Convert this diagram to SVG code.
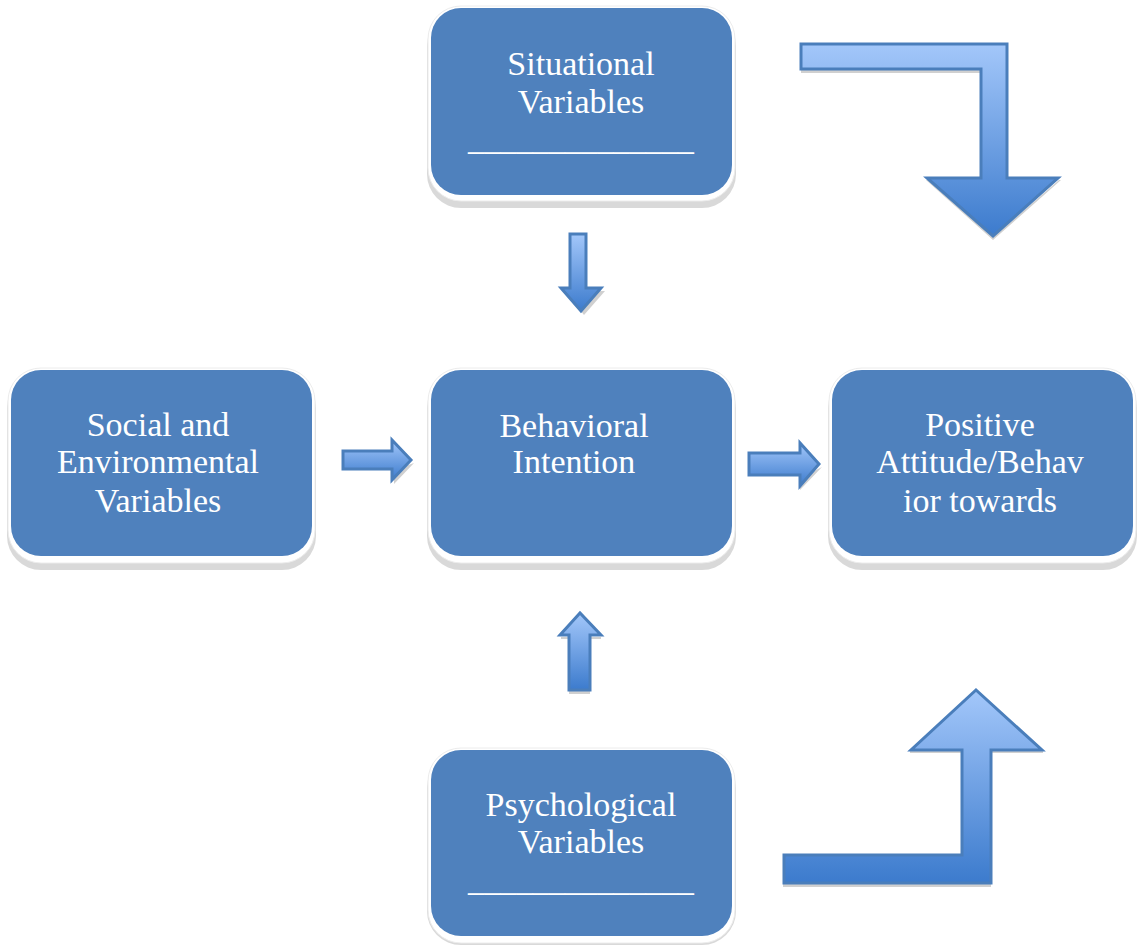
<svg xmlns="http://www.w3.org/2000/svg" width="1139" height="945" viewBox="0 0 1139 945">
<style>
.shadow{fill:#d9d9d9}
.halo{fill:#ffffff;stroke:#ececec;stroke-width:1}
.box{fill:#4f81bd}
.lbl{font-family:"Liberation Serif","Times New Roman",serif;font-size:34px;fill:#ffffff;text-anchor:middle}
.arr{fill:url(#g);stroke:#4a7ebb;stroke-width:3;stroke-linejoin:miter}
.ash{fill:#d0d0d0}
</style>
<defs>
<linearGradient id="g" x1="0" y1="0" x2="0" y2="1">
<stop offset="0" stop-color="#a3c7fa"/>
<stop offset="1" stop-color="#3c7bcd"/>
</linearGradient>
</defs>
<rect width="1139" height="945" fill="#ffffff"/>

<g id="situational">
<rect class="shadow" x="427" y="12" width="309" height="196" rx="34"/>
<rect class="halo" x="428" y="6" width="307" height="195" rx="33"/>
<rect class="box" x="431" y="8" width="301" height="187" rx="30"/>
<text class="lbl" x="581" y="75">Situational</text>
<text class="lbl" x="581" y="113">Variables</text>
<text class="lbl" x="581" y="150" textLength="226" lengthAdjust="spacingAndGlyphs">______________</text>
</g>

<g id="social">
<rect class="shadow" x="7" y="374" width="309" height="196" rx="34"/>
<rect class="halo" x="8" y="368" width="307" height="195" rx="33"/>
<rect class="box" x="11" y="370" width="301" height="186" rx="30"/>
<text class="lbl" x="158" y="436">Social and</text>
<text class="lbl" x="158" y="473">Environmental</text>
<text class="lbl" x="158" y="512">Variables</text>
</g>

<g id="behavioral">
<rect class="shadow" x="427" y="374" width="309" height="196" rx="34"/>
<rect class="halo" x="428" y="368" width="307" height="195" rx="33"/>
<rect class="box" x="431" y="370" width="301" height="186" rx="30"/>
<text class="lbl" x="574" y="437">Behavioral</text>
<text class="lbl" x="574" y="473">Intention</text>
</g>

<g id="positive">
<rect class="shadow" x="828" y="374" width="309" height="196" rx="34"/>
<rect class="halo" x="829" y="368" width="307" height="195" rx="33"/>
<rect class="box" x="832" y="370" width="301" height="186" rx="30"/>
<text class="lbl" x="980" y="436">Positive</text>
<text class="lbl" x="980" y="473">Attitude/Behav</text>
<text class="lbl" x="980" y="512">ior towards</text>
</g>

<g id="psychological">
<rect class="shadow" x="427" y="754" width="309" height="191" rx="34"/>
<rect class="halo" x="428" y="748" width="307" height="195" rx="33"/>
<rect class="box" x="431" y="750" width="301" height="186" rx="30"/>
<text class="lbl" x="581" y="816">Psychological</text>
<text class="lbl" x="581" y="853">Variables</text>
<text class="lbl" x="581" y="891" textLength="226" lengthAdjust="spacingAndGlyphs">______________</text>
</g>

<g id="connectors">
<path class="ash" d="M573 291 L565 291 L584 315 L605 291 L589 291 Z"/>
<path class="arr" d="M570 234 L586 234 L586 288 L601 288 L581 311 L561 288 L570 288 Z"/>
<path class="ash" d="M344 470 L394 470 L394 484 L414 463 L394 470 Z"/>
<path class="arr" d="M343 451 L392 451 L392 440 L411 460 L392 480 L392 469 L343 469 Z"/>
<path class="ash" d="M749 478 L800 478 L800 490 L822 467 L800 478 Z"/>
<path class="arr" d="M749 453 L800 453 L800 443 L819 464 L800 486 L800 475 L749 475 Z"/>
<path class="ash" d="M561 637 L569 637 L569 639 L561 639 Z M590 637 L601 637 L601 639 L590 639 Z M569 690 L590 690 L590 694 L569 694 Z"/>
<path class="arr" d="M569 690 L569 635 L560 635 L580 613 L601 635 L590 635 L590 690 Z"/>
<path class="ash" d="M801 69 L981 69 L981 73 L801 73 Z M926 180 L993 240 L1061 180 L1059 180 L993 237 L929 180 Z"/>
<path class="arr" d="M801 44 L1007 44 L1007 178 L1058 178 L993 236 L927 178 L981 178 L981 69 L801 69 Z"/>
<path class="ash" d="M783 883 L991 883 L991 887 L783 887 Z M910 750 L962 750 L962 753 L910 753 Z M991 750 L1043 750 L1043 753 L991 753 Z"/>
<path class="arr" d="M784 855 L962 855 L962 750 L911 750 L976 690 L1042 750 L991 750 L991 883 L784 883 Z"/>
</g>
</svg>
